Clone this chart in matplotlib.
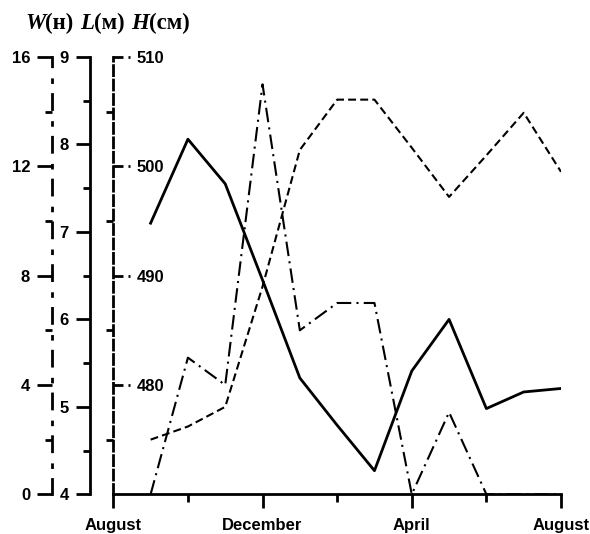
import matplotlib
matplotlib.use('Agg')
import matplotlib.pyplot as plt
from matplotlib.ticker import FixedLocator
from matplotlib.transforms import blended_transform_factory

# months after the August origin (Sep .. Aug)
months = list(range(1, 13))
month_ticks = [0, 4, 8, 12]
month_minor = [2, 6, 10]
month_labels = ['August', 'December', 'April', 'August']

w_values = [0, 5, 4, 15, 6, 7, 7, 0, 3, 0, 0, 0]
l_values = [7.1, 8.06, 7.55, 6.45, 5.33, 4.79, 4.27, 5.41, 6.0, 4.98, 5.17, 5.21]
h_values = [475.0, 476.2, 478.0, 489.0, 501.5, 506.1, 506.1, 501.7, 497.2, 501.0, 504.9, 499.5]

w_ticks = [0, 4, 8, 12, 16]
w_minor = [2, 6, 10, 14]
l_ticks = [4, 5, 6, 7, 8, 9]
l_minor = [4.5, 5.5, 6.5, 7.5, 8.5]
h_ticks = [480, 490, 500, 510]
h_minor = [475, 485, 495, 505]

plt.rcParams['font.family'] = 'Liberation Sans'
plt.rcParams['font.weight'] = 'bold'

fig = plt.figure(figsize=(5.9, 5.34), dpi=100)
W_PX, H_PX = 590, 534
ax_left, ax_bottom, ax_right, ax_top = 113.3, 494.3, 561.0, 57.0
ax_w_px = ax_right - ax_left
ax_h = fig.add_axes([ax_left / W_PX, 1 - ax_bottom / H_PX,
                     ax_w_px / W_PX, (ax_bottom - ax_top) / H_PX])

spine_lw = 2
lab_size = 12
dashed = (0, (3.6, 1.6))
dashdot = (0, (5.4, 4.3, 1, 4.7))

# H axis (main, dashed spine) + x axis
ax_h.plot(months, h_values, color='black', lw=1.5, ls=(0, (3.8, 2)))
ax_h.set_ylim(470, 510)
for s in ['top', 'right']:
    ax_h.spines[s].set_visible(False)
ax_h.spines['bottom'].set_linewidth(spine_lw)
ax_h.spines['left'].set_linewidth(spine_lw)
ax_h.spines['left'].set_linestyle(dashed)
ax_h.set_xticks(month_ticks, month_labels)
ax_h.xaxis.set_minor_locator(FixedLocator(month_minor))
ax_h.tick_params(axis='x', which='major', direction='out', length=10, width=2,
                 pad=7, labelsize=lab_size)
ax_h.tick_params(axis='x', which='minor', direction='out', length=5.8, width=2)
ax_h.set_yticks(h_ticks, [str(v) for v in h_ticks], ha='left')
ax_h.yaxis.set_minor_locator(FixedLocator(h_minor))
ax_h.tick_params(axis='y', which='major', length=0, pad=-16.8, labelsize=lab_size)
ax_h.tick_params(axis='y', which='minor', direction='out', length=5, width=2)
# dashed inward major ticks, drawn like the spine
trans = blended_transform_factory(ax_h.transAxes, ax_h.transData)
tick_len = 17 / ax_w_px
for v in h_ticks:
    ax_h.plot([0, tick_len], [v, v], transform=trans, color='black', lw=2,
              ls=(0, (3.6, 1.8)), clip_on=False, dash_capstyle='butt')

# L axis (solid spine)
ax_l = ax_h.twinx()
ax_l.plot(months, l_values, color='black', lw=2)
ax_l.set_ylim(4, 9)
for s in ['top', 'right', 'bottom']:
    ax_l.spines[s].set_visible(False)
ax_l.spines['left'].set_visible(True)
ax_l.spines['left'].set_position(('axes', -23 / ax_w_px))
ax_l.spines['left'].set_linewidth(spine_lw)
ax_l.yaxis.set_ticks_position('left')
ax_l.set_yticks(l_ticks)
ax_l.yaxis.set_minor_locator(FixedLocator(l_minor))
ax_l.tick_params(axis='y', which='major', direction='out', length=10, width=2,
                 pad=5.5, labelsize=lab_size)
ax_l.tick_params(axis='y', which='minor', direction='out', length=5, width=2)

# W axis (dash-dot spine)
ax_w = ax_h.twinx()
ax_w.plot(months, w_values, color='black', lw=1.5, ls=(0, (7, 2.5, 1, 2.5)))
ax_w.set_ylim(0, 16)
for s in ['top', 'right', 'bottom']:
    ax_w.spines[s].set_visible(False)
ax_w.spines['left'].set_visible(True)
ax_w.spines['left'].set_position(('axes', -61.3 / ax_w_px))
ax_w.spines['left'].set_linewidth(spine_lw)
ax_w.spines['left'].set_linestyle(dashdot)
ax_w.yaxis.set_ticks_position('left')
ax_w.set_yticks(w_ticks)
ax_w.yaxis.set_minor_locator(FixedLocator(w_minor))
ax_w.tick_params(axis='y', which='major', direction='out', length=11, width=2,
                 pad=4.8, labelsize=lab_size)
ax_w.tick_params(axis='y', which='minor', direction='out', length=5, width=2)

ax_h.set_xlim(0, 12)

# title built from pieces: italic symbol + upright unit
pieces = [('W', 'italic', 0), ('(н)', 'normal', 0), ('L', 'italic', 4.5),
          ('(м)', 'normal', 0), ('H', 'italic', 4.5), ('(см)', 'normal', 0)]
prev = fig.text(25 / W_PX, 1 - 34 / H_PX, pieces[0][0], style=pieces[0][1],
                weight='bold', family='Liberation Serif', size=16.5, va='bottom')
for txt, st, gap in pieces[1:]:
    prev = ax_h.annotate(txt, xy=(1, 0), xycoords=prev, xytext=(gap, 0),
                         textcoords='offset points', style=st, weight='bold',
                         family='Liberation Serif', size=16.5, va='bottom')

fig.savefig('out.png', dpi=100)
